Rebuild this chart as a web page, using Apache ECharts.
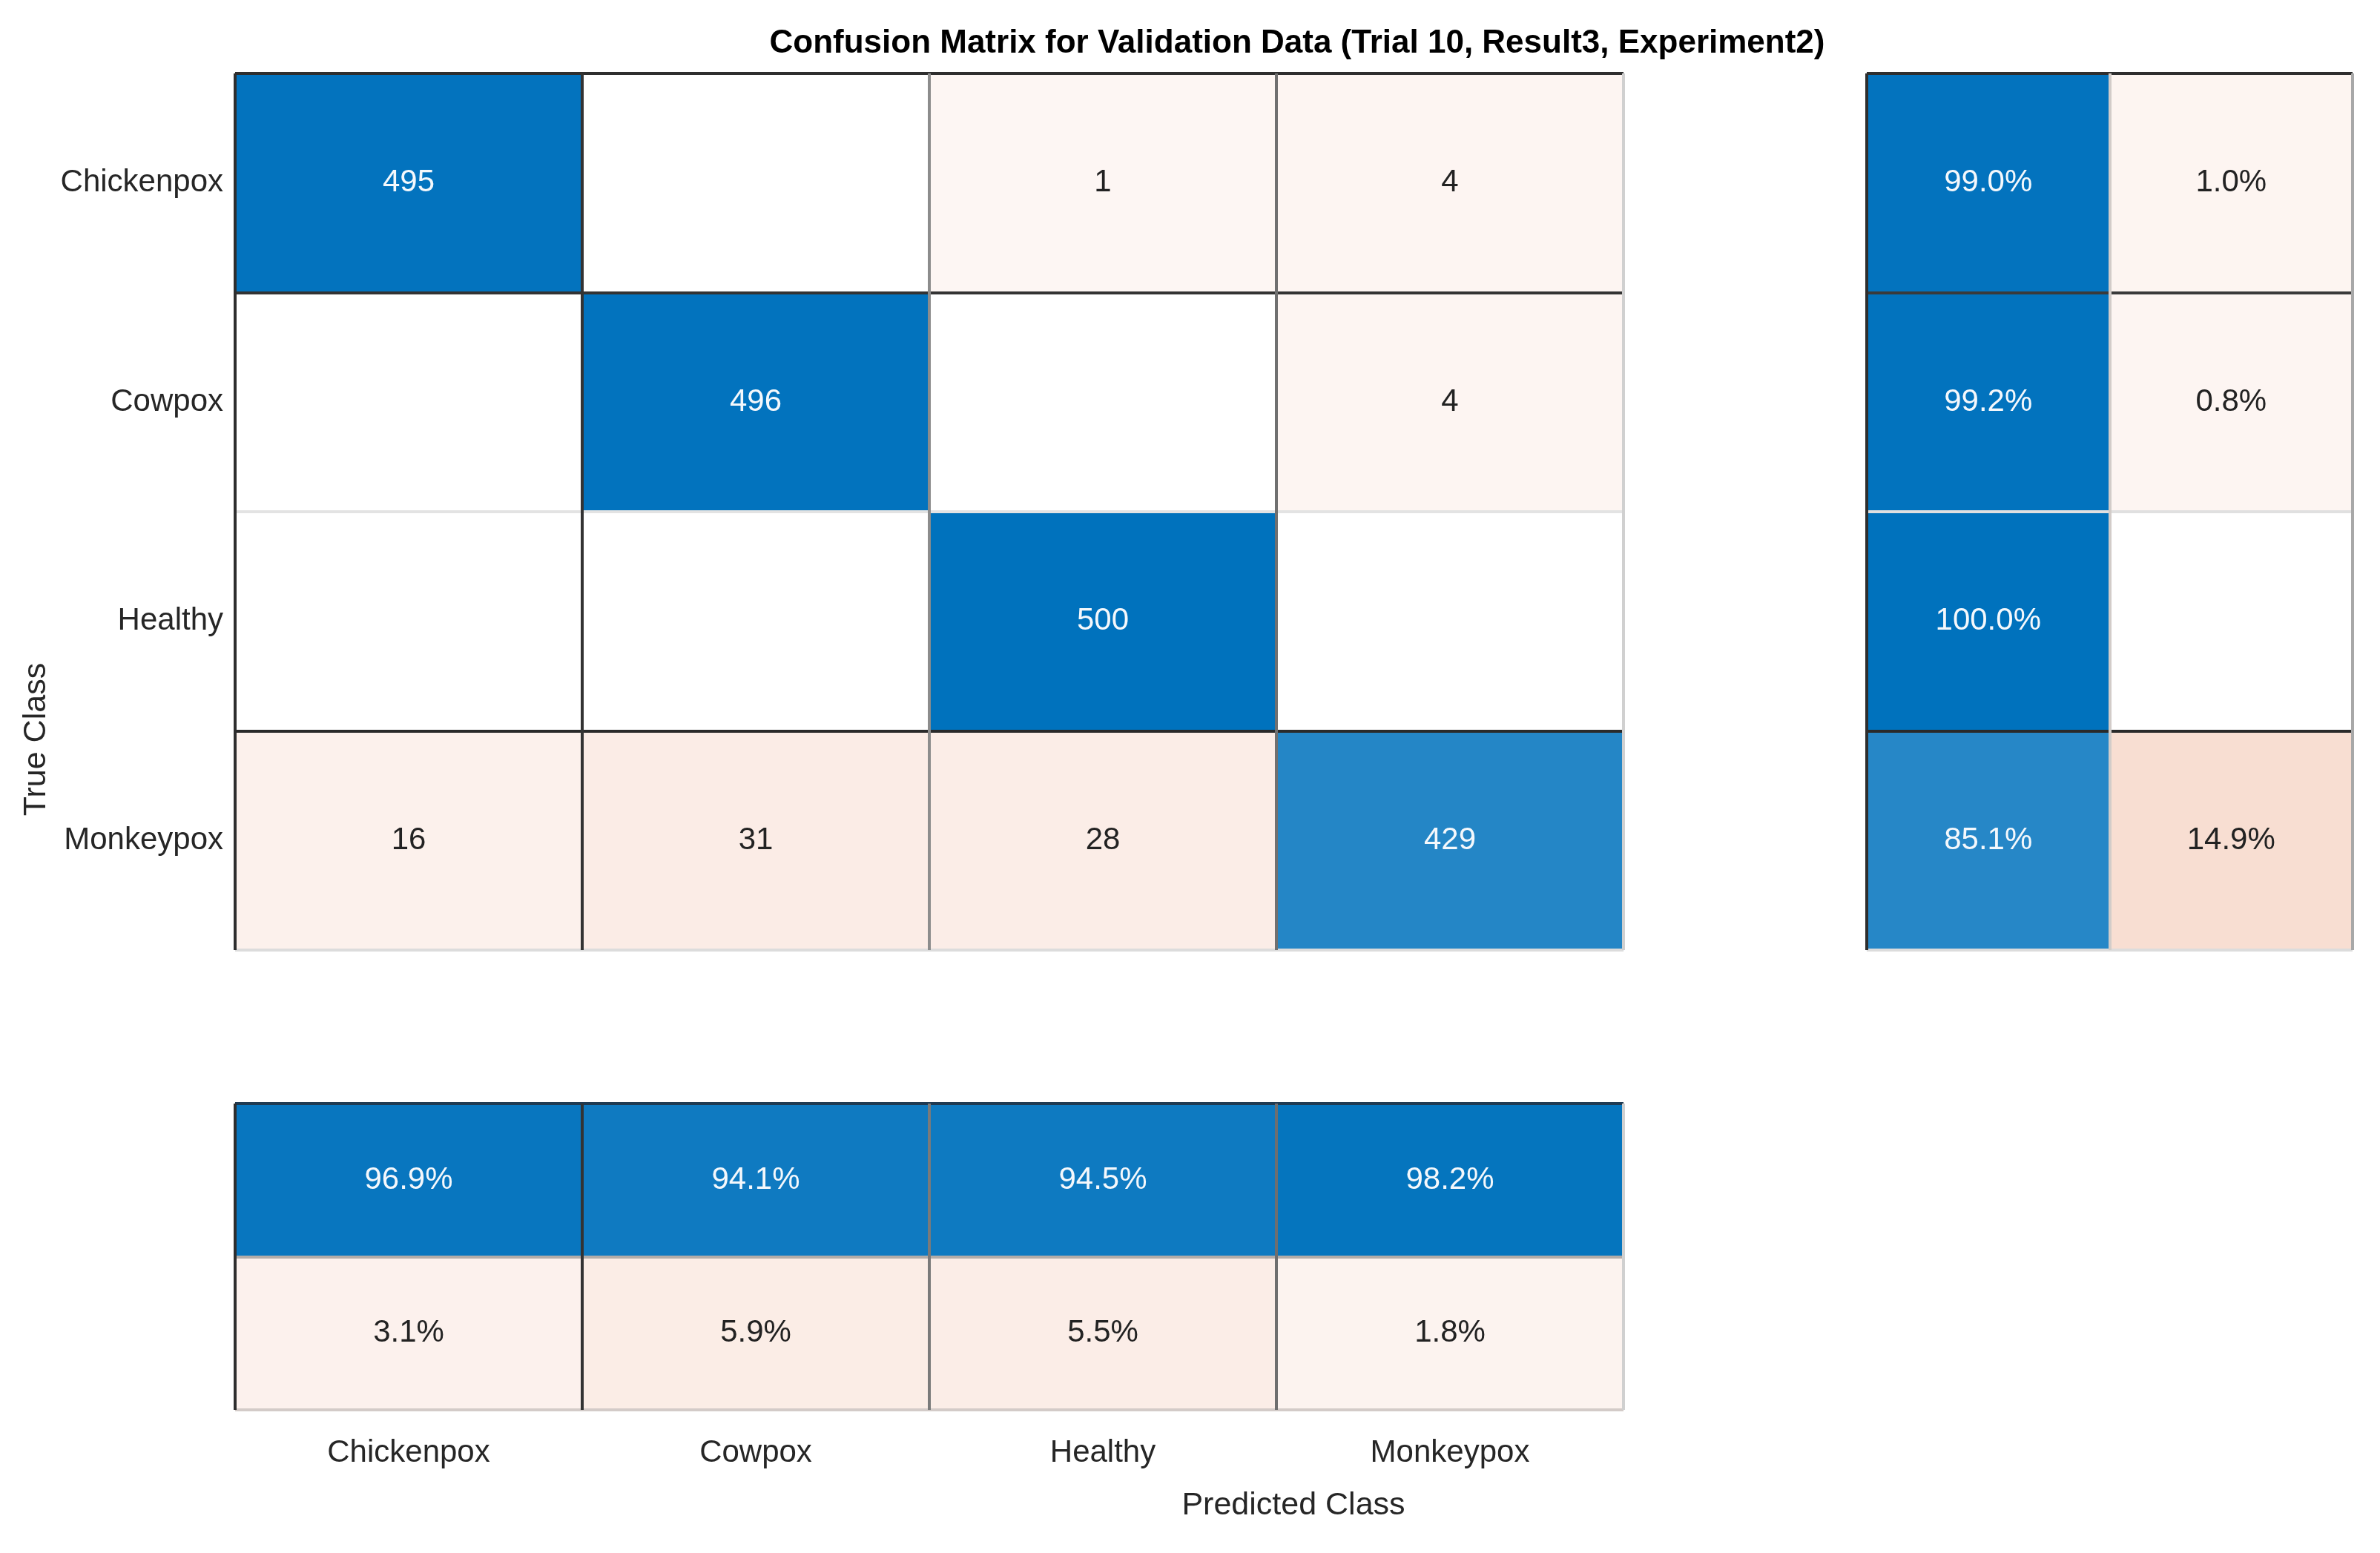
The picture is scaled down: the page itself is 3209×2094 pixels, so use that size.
<!DOCTYPE html>
<html>
<head>
<meta charset="utf-8">
<style>html,body{margin:0;padding:0;background:#fff;}#c{width:3209px;height:2094px;}</style>
<script src="https://cdn.jsdelivr.net/npm/echarts@6/dist/echarts.min.js"></script>
</head>
<body>
<div id="c"></div>
<script>
// ---- data ----
const classes = ['Chickenpox', 'Cowpox', 'Healthy', 'Monkeypox'];
const counts = [
  [495, 0, 1, 4],
  [0, 496, 0, 4],
  [0, 0, 500, 0],
  [16, 31, 28, 429]
];
const rowSummaryPct = [
  [99.0, 1.0],
  [99.2, 0.8],
  [100.0, 0],
  [85.1, 14.9]
];
const colSummaryPct = [
  [96.9, 94.1, 94.5, 98.2],
  [3.1, 5.9, 5.5, 1.8]
];
const titleText = 'Confusion Matrix for Validation Data (Trial 10, Result3, Experiment2)';

// ---- styling helpers ----
const FONT = "'Liberation Sans', Arial, sans-serif";
function lerp(c, t) {
  const w = [255, 255, 255];
  return 'rgb(' + c.map((v, i) => Math.round(w[i] + (v - w[i]) * t)).join(',') + ')';
}
const BLUE = [0, 114, 189], RED = [217, 83, 25];
function cellColor(frac, good) {
  if (frac <= 0) return '#ffffff';
  return good ? lerp(BLUE, frac) : lerp(RED, 0.05 + 0.97 * frac);
}
function item(x, y, v, frac, good, text) {
  return {
    value: [x, y, v],
    itemStyle: { color: cellColor(frac, good) },
    label: { show: v > 0, formatter: text, color: good ? '#f4f8fc' : '#222222' }
  };
}

const mainData = [];
counts.forEach((row, r) => row.forEach((v, c) => {
  mainData.push(item(c, r, v, v / 500, r === c, String(v)));
}));
const rightData = [];
rowSummaryPct.forEach((row, r) => row.forEach((v, c) => {
  rightData.push(item(c, r, v, v / 100, c === 0, v.toFixed(1) + '%'));
}));
const bottomData = [];
colSummaryPct.forEach((row, r) => row.forEach((v, c) => {
  bottomData.push(item(c, r, v, v / 100, r === 0, v.toFixed(1) + '%'));
}));

function catAxis(gridIndex, data, opts) {
  return Object.assign({
    type: 'category', gridIndex: gridIndex, data: data, z: 10,
    axisLine: { show: false }, axisTick: { show: false },
    axisLabel: { show: false },
    splitArea: { show: false }
  }, opts);
}
const labelStyle = { fontFamily: FONT, fontSize: 42, color: '#262626' };
const cellLabel = { show: true, fontFamily: FONT, fontSize: 42 };

const option = {
  backgroundColor: '#ffffff',
  animation: false,
  textStyle: { fontFamily: FONT },
  title: {
    text: titleText, left: 1744, top: 32, textAlign: 'center',
    textStyle: { fontFamily: FONT, fontSize: 44, fontWeight: 'bold', color: '#000' }
  },
  grid: [
    { left: 317, top: 99, width: 1872, height: 1182 },
    { left: 2517, top: 99, width: 655, height: 1182 },
    { left: 317, top: 1488, width: 1872, height: 413 }
  ],
  xAxis: [
    catAxis(0, classes, { splitLine: { show: true, lineStyle: { width: 4, color: ['#2e2e2e', '#333333', '#8c8c8c', '#707070', '#d0d0d0'] } } }),
    catAxis(1, ['0', '1'], { splitLine: { show: true, lineStyle: { width: 4, color: ['#2e2e2e', '#d2ccc9', '#a8a8a8'] } } }),
    catAxis(2, classes, {
      axisLabel: Object.assign({ show: true, margin: 37 }, labelStyle),
      splitLine: { show: true, lineStyle: { width: 4, color: ['#2e2e2e', '#333333', '#7a7a7a', '#6e6e6e', '#d0d0d0'] } }
    })
  ],
  yAxis: [
    catAxis(0, classes, {
      inverse: true,
      axisLabel: Object.assign({ show: true, margin: 16 }, labelStyle),
      splitLine: { show: true, lineStyle: { width: 4, color: ['#2e2e2e', '#333333', '#e3e3e3', '#2a2a2a', '#dcdcdc'] } }
    }),
    catAxis(1, ['0', '1', '2', '3'], {
      inverse: true,
      splitLine: { show: true, lineStyle: { width: 4, color: ['#2e2e2e', '#3a3a3a', '#e0e0e0', '#2a2a2a', '#dcdcdc'] } }
    }),
    catAxis(2, ['0', '1'], {
      inverse: true,
      splitLine: { show: true, lineStyle: { width: 4, color: ['#1f3a52', '#b3aca8', '#d3cbc8'] } }
    })
  ],
  series: [
    { type: 'heatmap', xAxisIndex: 0, yAxisIndex: 0, data: mainData, label: cellLabel, itemStyle: { borderWidth: 0 } },
    { type: 'heatmap', xAxisIndex: 1, yAxisIndex: 1, data: rightData, label: cellLabel, itemStyle: { borderWidth: 0 } },
    { type: 'heatmap', xAxisIndex: 2, yAxisIndex: 2, data: bottomData, label: cellLabel, itemStyle: { borderWidth: 0 } }
  ],
  graphic: [
    { type: 'text', x: 1744, y: 2030,
      style: { text: 'Predicted Class', font: '43px ' + FONT, fill: '#262626', align: 'center', verticalAlign: 'middle' } },
    { type: 'text', x: 49, y: 997, rotation: Math.PI / 2,
      style: { text: 'True Class', font: '43px ' + FONT, fill: '#262626', align: 'center', verticalAlign: 'middle' } }
  ]
};
const chart = echarts.init(document.getElementById('c'));
chart.setOption(option);
</script>
</body>
</html>
